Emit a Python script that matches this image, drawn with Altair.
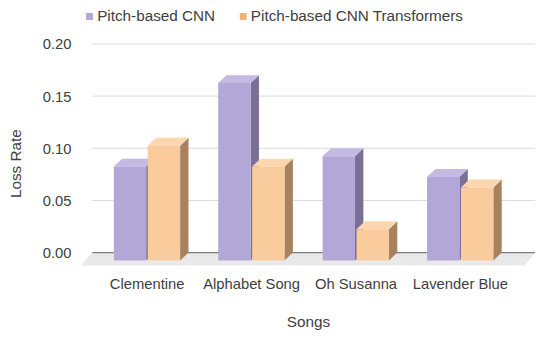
import json
import altair as alt
import pandas as pd

# ---- data ----
songs = ["Clementine", "Alphabet Song", "Oh Susanna", "Lavender Blue"]
series = ["Pitch-based CNN", "Pitch-based CNN Transformers"]
cnn = [0.09, 0.17, 0.10, 0.08]
cnn_tf = [0.11, 0.09, 0.03, 0.07]
y_ticks = [0.0, 0.05, 0.10, 0.15, 0.20]

# ---- styling ----
FONT = "Liberation Sans"
TXT = "#404040"
legend_colors = ["#B4A7D6", "#F6B26B"]
front_colors = ["#B3A7D8", "#FACB9D"]
top_colors = ["#C3B9E3", "#FCD6AE"]
side_colors = ["#7B6F97", "#A8825F"]

X_MIN, X_MAX = -0.63, 3.72
Y_MIN, Y_MAX = -0.0125, 0.20
W, H = 461, 225
px_x = (X_MAX - X_MIN) / W          # data units per pixel (x)
px_y = (Y_MAX - Y_MIN) / H          # data units per pixel (y)
DX = 8.5 * px_x                     # 3-D depth offset
DY = 8.0 * px_y
BW = 0.31                           # bar width (category units)
starts = [-0.315, 0.01]             # bar start relative to group centre

xs = alt.Scale(domain=[X_MIN, X_MAX], nice=False, zero=False)
ys = alt.Scale(domain=[Y_MIN, Y_MAX], nice=False, zero=False)

label_expr = json.dumps(songs) + "[round(datum.value)]"
x_axis = alt.Axis(values=list(range(len(songs))), labelExpr=label_expr,
                  title="Songs", grid=False, domain=False, ticks=False,
                  labelPadding=11, titlePadding=24, labelFontSize=15,
                  titleFontSize=15.5, labelFont=FONT, titleFont=FONT,
                  labelColor=TXT, titleColor=TXT, labelOverlap=False,
                  labelFlush=False, titleFontWeight="normal")
y_axis = alt.Axis(values=y_ticks, format=".2f", title="Loss Rate",
                  grid=False, domain=False, ticks=False, labelPadding=10,
                  titlePadding=19, labelFontSize=15, titleFontSize=15.5,
                  labelFont=FONT, titleFont=FONT, labelColor=TXT,
                  titleColor=TXT, titleFontWeight="normal", titleY=121,
                  labelFlush=False, labelOverlap=False)


def X(field):
    return alt.X(field, scale=xs, axis=x_axis)


def Y(field):
    return alt.Y(field, scale=ys, axis=y_axis)


# ---- floor ----
floor = pd.DataFrame({
    "y": [Y_MIN, 0.0],
    "x": [X_MIN, -0.52],
    "x2": [X_MAX - 0.1, X_MAX],
})
floor_layer = alt.Chart(floor).mark_area(orient="horizontal", color="#E9E9E9").encode(
    y=Y("y:Q"), x=X("x:Q"), x2="x2:Q")

grid = pd.DataFrame({"y": y_ticks[1:], "x": -0.52, "x2": X_MAX})
grid_layer = alt.Chart(grid).mark_rule(color="#D9D9D9", strokeWidth=1).encode(
    y=Y("y:Q"), x=X("x:Q"), x2="x2:Q")

zero = pd.DataFrame({"y": [0.0], "x": [-0.52], "x2": [X_MAX]})
zero_layer = alt.Chart(zero).mark_rule(color="#7F7F7F", strokeWidth=1.2).encode(
    y=Y("y:Q"), x=X("x:Q"), x2="x2:Q")

layers = [floor_layer, grid_layer, zero_layer]

for s, vals in enumerate([cnn, cnn_tf]):
    front_rows, side_rows, top_rows = [], [], []
    for i, v in enumerate(vals):
        x0 = i + starts[s]
        x1 = x0 + BW
        bid = f"{s}-{i}"
        front_rows.append({"x": x0, "x2": x1, "y": -DY, "y2": v - DY})
        side_rows += [
            {"id": bid, "x": x1, "y": -DY, "y2": v - DY},
            {"id": bid, "x": x1 + DX, "y": 0.0, "y2": v},
        ]
        top_rows += [
            {"id": bid, "y": v - DY, "x": x0, "x2": x1},
            {"id": bid, "y": v, "x": x0 + DX, "x2": x1 + DX},
        ]
    side = alt.Chart(pd.DataFrame(side_rows)).mark_area(
        orient="vertical", color=side_colors[s]).encode(
        x=X("x:Q"), y=Y("y:Q"), y2="y2:Q", detail="id:N")
    top = alt.Chart(pd.DataFrame(top_rows)).mark_area(
        orient="horizontal", color=top_colors[s]).encode(
        y=Y("y:Q"), x=X("x:Q"), x2="x2:Q", detail="id:N")
    front = alt.Chart(pd.DataFrame(front_rows)).mark_rect(
        color=front_colors[s]).encode(
        x=X("x:Q"), x2="x2:Q", y=Y("y:Q"), y2="y2:Q")
    layers += [side, top, front]

# ---- legend (invisible marks carrying the colour scale) ----
leg = pd.DataFrame({"series": series, "x": [0, 1], "y": [0.0, 0.0]})
legend_layer = alt.Chart(leg).mark_square(opacity=0).encode(
    x=X("x:Q"), y=Y("y:Q"),
    color=alt.Color("series:N",
                    scale=alt.Scale(domain=series, range=legend_colors),
                    legend=alt.Legend(orient="none", legendX=1, legendY=-36,
                                      direction="horizontal", title=None,
                                      symbolType="square", symbolSize=49,
                                      symbolOpacity=1, symbolStrokeWidth=0,
                                      labelFontSize=15.5, labelFont=FONT,
                                      labelColor=TXT, columnPadding=20,
                                      labelOffset=0, padding=0, labelLimit=0)),
)
layers.append(legend_layer)

chart = alt.layer(*layers).properties(
    width=W, height=H,
    background="white",
    autosize=alt.AutoSizeParams(type="none"),
    padding={"left": 74, "top": 34, "right": 7, "bottom": 71},
).configure_view(stroke=None)

chart.save("out.html", embed_options={"renderer": "svg", "actions": False})
